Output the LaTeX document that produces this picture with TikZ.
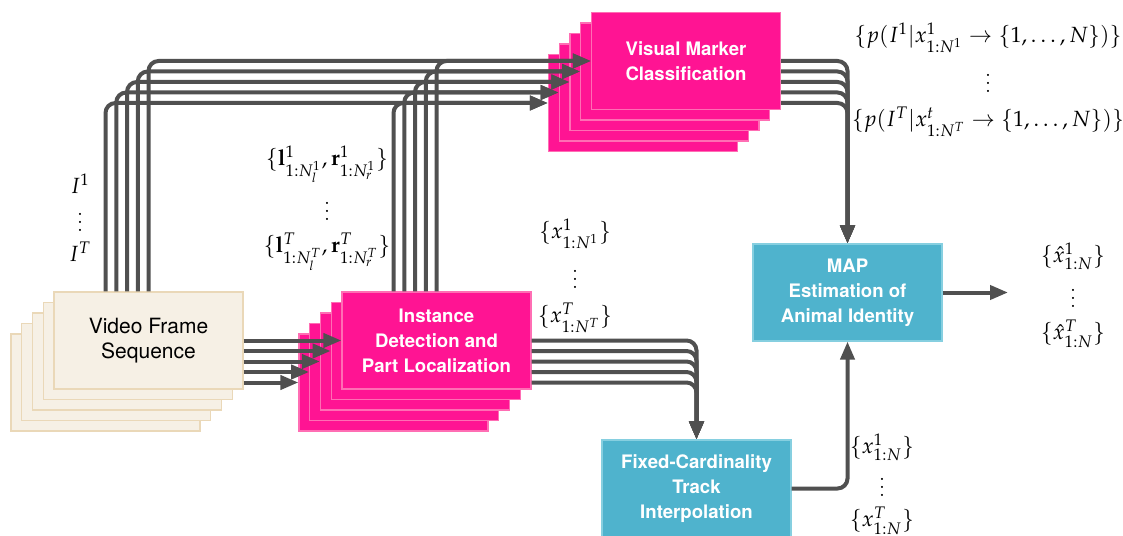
\documentclass[tikz,border=0pt]{standalone}
\usepackage{mathpazo}
\usepackage[no-math]{fontspec}
\setsansfont{TeX Gyre Heros}
\usetikzlibrary{arrows.meta,positioning}
\definecolor{framefill}{HTML}{F6F0E5}
\definecolor{frameline}{HTML}{EAD8B8}
\definecolor{pinkfill}{HTML}{FF1493}
\definecolor{pinkline}{HTML}{FF6EB4}
\definecolor{tealfill}{HTML}{4FB3CD}
\definecolor{tealline}{HTML}{86CFE0}
\definecolor{wiregray}{HTML}{505050}
\begin{document}
\begin{tikzpicture}[x=0.5pt, y=-0.5pt,
    box/.style = {minimum width=94.5pt, minimum height=48.5pt, align=center, line width=0.6pt, inner sep=2pt},
    framebox/.style = {box, draw=frameline, fill=framefill, font=\sffamily\fontsize{10.5}{12.5}\selectfont},
    pinkbox/.style = {box, draw=pinkline, fill=pinkfill, text=white, font=\sffamily\bfseries\fontsize{9.3}{12.5}\selectfont},
    tealbox/.style = {box, draw=tealline, fill=tealfill, text=white, font=\sffamily\bfseries\fontsize{9.3}{12.5}\selectfont},
    wire/.style = {draw=wiregray, line width=2pt, rounded corners=5pt},
    arr/.style = {wire, -{Triangle[length=9pt,width=7pt]}},
    lbl/.style = {font=\fontsize{11}{13}\selectfont, align=center, inner sep=0pt}]
    \useasboundingbox (0,0) rectangle (1123,535);
    % stacks, back to front
    \foreach \i in {4,...,0} {
        \node[framebox] (vfs-\i) at (148.5-10.75*\i, 340.5+10.5*\i) {};
        \node[pinkbox] (inst-\i) at (436.5-10.75*\i, 340.5+10.5*\i) {};
        \node[pinkbox] (vmc-\i) at (686-10.75*\i, 61+10.5*\i) {};
    }
    \node[framebox] at (vfs-0) {Video Frame\\Sequence};
    \node[pinkbox] at (inst-0) {Instance\\Detection and\\Part Localization};
    \node[pinkbox] at (vmc-0) {Visual Marker\\Classification};
    \node[tealbox] (map) at (847.5, 292.5) {MAP\\Estimation of\\Animal Identity};
    \node[tealbox] (fix) at (696.5, 488.5) {Fixed-Cardinality\\Track\\Interpolation};
    \coordinate (out) at (1008, 292.5);
    \foreach \i in {0,...,4} {
        \draw[arr] (vfs-0.east |- vfs-\i.center) -- (inst-\i.west);
        \draw[arr] (vfs-\i.center |- vfs-0.north) |- (vmc-\i.west);
        \draw[arr] (inst-\i.center |- inst-0.north) |- (vmc-\i.west);
        \draw[arr] (inst-0.east |- inst-\i.center) -| (fix.north);
        \draw[arr] (vmc-0.east |- vmc-\i.center) -| (map.north);
    }
    \draw[arr] (fix.east) -| (map.south);
    \draw[arr] (map.east) -- (out);
    \node[lbl] (ilab) at (80, 218) {$I^1$\\[3pt]$\vdots$\\[2pt]$I^T$};
    \node[lbl] (lrlab) at (327, 208) {$\{\mathbf{l}^1_{1:N_l^1},\mathbf{r}^1_{1:N_r^1}\}$\\[3pt]$\vdots$\\[3pt]$\{\mathbf{l}^T_{1:N_l^T},\mathbf{r}^T_{1:N_r^T}\}$};
    \node[lbl] (xlab) at (575, 276) {$\{x^1_{1:N^1}\}$\\[4pt]$\vdots$\\[4pt]$\{x^T_{1:N^T}\}$};
    \node[lbl] (plab) at (988, 80) {$\{p(I^1|x^1_{1:N^1}\rightarrow\{1,\ldots,N\})\}$\\[4pt]$\vdots$\\[4pt]$\{p(I^T|x^t_{1:N^T}\rightarrow\{1,\ldots,N\})\}$};
    \node[lbl] (fixlab) at (882, 484) {$\{x^1_{1:N}\}$\\[2pt]$\vdots$\\[2pt]$\{x^T_{1:N}\}$};
    \node[lbl] (maplab) at (1073, 295) {$\{\hat{x}^1_{1:N}\}$\\[3pt]$\vdots$\\[3pt]$\{\hat{x}^T_{1:N}\}$};
\end{tikzpicture}
\end{document}
